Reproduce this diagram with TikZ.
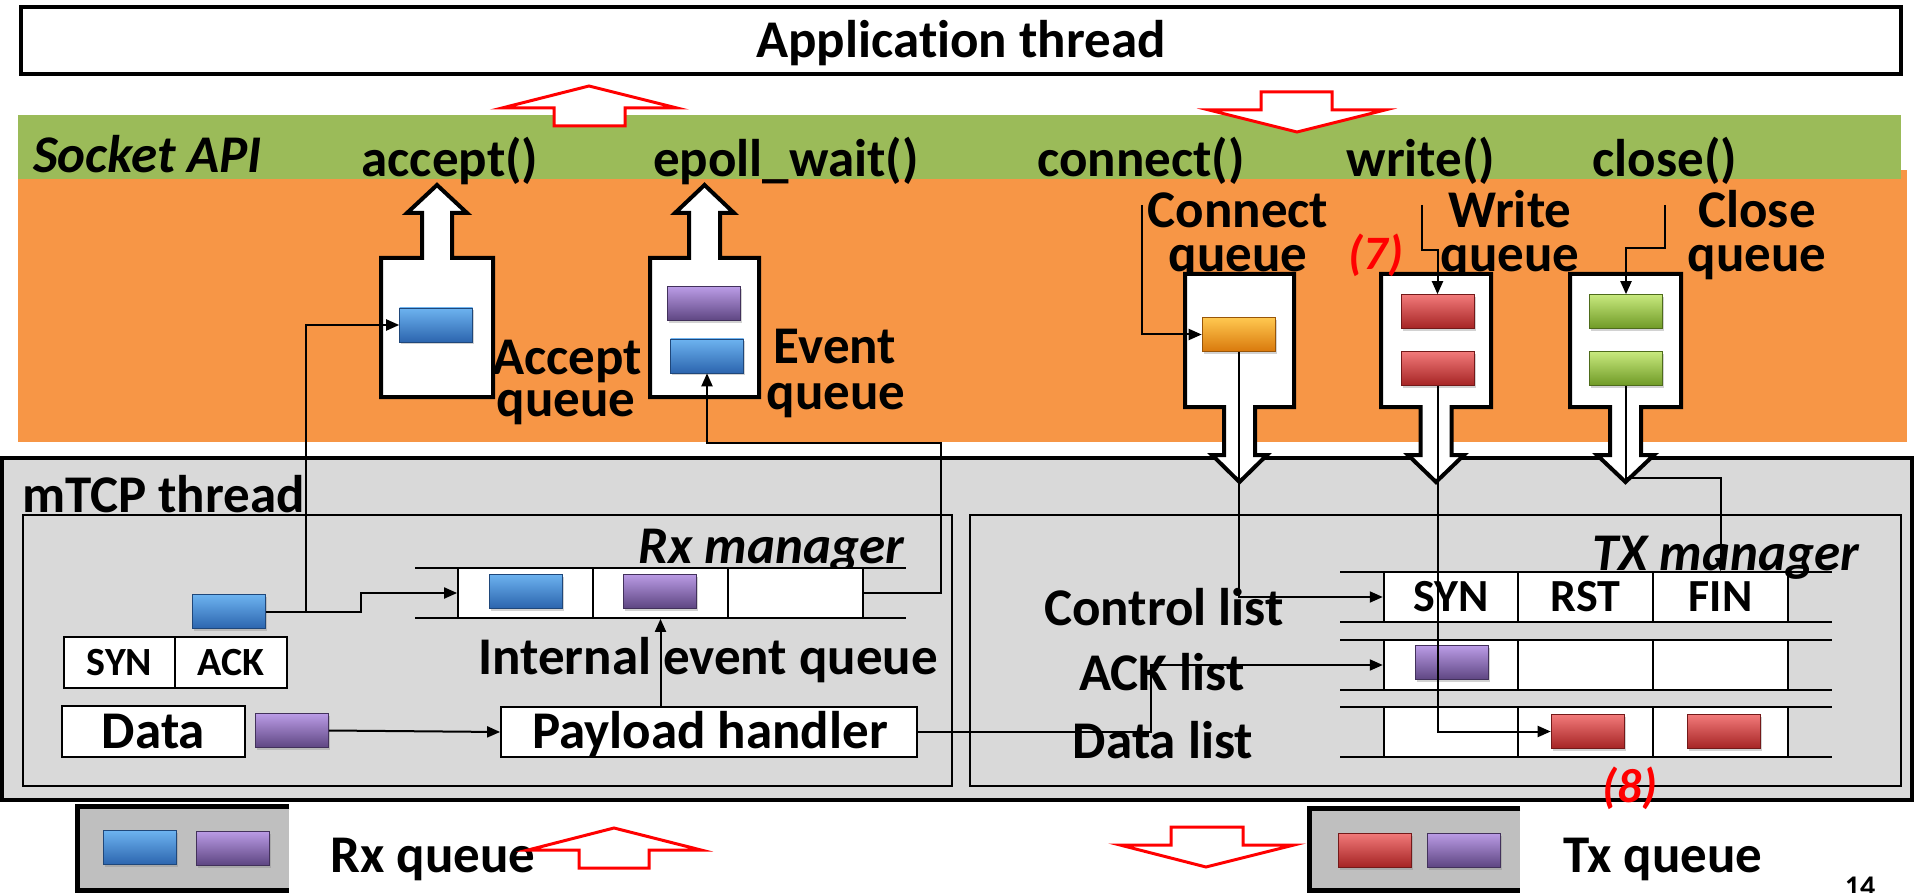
\documentclass[tikz,border=0pt]{standalone}
\usepackage{fontspec}
\setmainfont{Carlito}[Ligatures={NoCommon,NoRequired,NoContextual}]
\usetikzlibrary{arrows.meta,shadows}
\definecolor{apigreen}{HTML}{9BBB59}
\definecolor{apiorange}{HTML}{F79646}
\definecolor{mgray}{HTML}{D9D9D9}
\definecolor{qgray}{HTML}{BFBFBF}
\definecolor{bTop}{HTML}{6DB3F0}\definecolor{bMid}{HTML}{4A8AD4}\definecolor{bBot}{HTML}{2C65AE}
\definecolor{pTop}{HTML}{BB9CE6}\definecolor{pMid}{HTML}{8064A2}\definecolor{pBot}{HTML}{5E4682}
\definecolor{rTop}{HTML}{F27A7A}\definecolor{rMid}{HTML}{D43A3A}\definecolor{rBot}{HTML}{A52424}
\definecolor{gTop}{HTML}{C8E97E}\definecolor{gMid}{HTML}{9CC63E}\definecolor{gBot}{HTML}{6F9A26}
\definecolor{oTop}{HTML}{FFC850}\definecolor{oMid}{HTML}{F7A21E}\definecolor{oBot}{HTML}{D9790C}
\begin{document}
\begin{tikzpicture}[x=1pt,y=-1pt,
  txt/.style={font=\fontsize{53}{60}\selectfont\bfseries, inner sep=0pt, anchor=base},
  itxt/.style={font=\fontsize{53}{60}\selectfont\bfseries\itshape, inner sep=0pt, anchor=base},
  redtxt/.style={font=\fontsize{48}{52}\selectfont\bfseries\itshape, text=red, inner sep=0pt, anchor=base},
  pkt/.style={rectangle, minimum width=73pt, minimum height=34pt, inner sep=0pt, line width=0.6pt,
     drop shadow={shadow xshift=1.5pt, shadow yshift=-2.5pt, opacity=0.35}},
  bluep/.style={pkt, draw=bBot!70!black, top color=bTop, middle color=bMid, bottom color=bBot},
  purpp/.style={pkt, draw=pBot!70!black, top color=pTop, middle color=pMid, bottom color=pBot},
  redp/.style={pkt, draw=rBot!70!black, top color=rTop, middle color=rMid, bottom color=rBot},
  greenp/.style={pkt, draw=gBot!70!black, top color=gTop, middle color=gMid, bottom color=gBot},
  orangep/.style={pkt, draw=oBot!70!black, top color=oTop, middle color=oMid, bottom color=oBot},
  qcell/.style={draw, line width=1.8pt, fill=white, minimum width=135pt, minimum height=50pt, inner sep=0pt},
  tcell/.style={qcell, minimum width=134.7pt, font=\fontsize{46}{50}\selectfont\bfseries},
  scell/.style={draw, line width=1.8pt, fill=white, minimum height=51pt, inner sep=0pt, font=\fontsize{40}{44}\selectfont\bfseries},
  wbox/.style={draw, line width=1.8pt, fill=white, inner sep=0pt},
  qbox/.style={draw=black, line width=4pt, fill=white, line join=miter},
  rarrow/.style={draw=red, line width=3pt, fill=white, line join=miter},
  ln/.style={line width=2pt},
  arr/.style={line width=2pt, -{Triangle[length=13pt,width=11pt]}},
  rowline/.style={line width=2.5pt}
]
\useasboundingbox (0,0) rectangle (1915,893);
\fill[white] (0,0) rectangle (1915,893);

% Application thread
\node[draw, line width=4pt, minimum width=1880pt, minimum height=67pt, inner sep=0pt] (app) at (961,40.5) {};
\node[txt] (apptxt) at (961,58) {Application thread};

% socket API layer
\fill[apiorange] (18,170) rectangle (1907,442);
\fill[apigreen] (18,115) rectangle (1901,179);

% red arrows between app and API
\draw[rarrow] (554,126) -- (554,108) -- (502,108) -- (589,86) -- (677,108) -- (625,108) -- (625,126) -- cycle;
\draw[rarrow] (1261,92) -- (1332,92) -- (1332,110) -- (1385,110) -- (1297,132) -- (1209,110) -- (1261,110) -- cycle;

\node[itxt, anchor=base west] (sapi) at (33,173) {Socket API};
\node[txt] (facc) at (450,177) {accept()};
\node[txt] (fepw) at (786,177) {epoll\_wait()};
\node[txt] (fcon) at (1141,177) {connect()};
\node[txt] (fwri) at (1421,177) {write()};
\node[txt] (fclo) at (1665,177) {close()};

% queue labels
\node[txt] (lacc1) at (567,374) {Accept};
\node[txt] (lacc2) at (566,416) {queue};
\node[txt] (levt1) at (835,363) {Event};
\node[txt] (levt2) at (836,409) {queue};
\node[txt] (lcon1) at (1238,228) {Connect};
\node[txt] (lcon2) at (1238,272) {queue};
\node[txt] (lwri1) at (1510,228) {Write};
\node[txt] (lwri2) at (1510,272) {queue};
\node[txt] (lclo1) at (1757,228) {Close};
\node[txt] (lclo2) at (1757,272) {queue};

% mTCP thread
\draw[line width=4pt, fill=mgray] (2,458) rectangle (1912,800);
\node[txt, anchor=base west] (mtcp) at (22,512) {mTCP thread};
\draw[line width=2pt] (23,515) rectangle (952,786);
\draw[line width=2pt] (970,515) rectangle (1901,786);

% queue block shapes
\draw[qbox] (381,397) -- (381,258) -- (422,258) -- (422,213) -- (407,213) -- (437,185) -- (467,213) -- (452,213) -- (452,258) -- (493,258) -- (493,397) -- cycle;
\draw[qbox] (650,397) -- (650,258) -- (689,258) -- (689,213) -- (675,213) -- (704.5,185) -- (734,213) -- (720,213) -- (720,258) -- (759,258) -- (759,397) -- cycle;
\draw[qbox] (1185,274) -- (1294,274) -- (1294,407) -- (1255,407) -- (1255,455) -- (1267,455) -- (1239.5,482) -- (1212,455) -- (1224,455) -- (1224,407) -- (1185,407) -- cycle;
\draw[qbox] (1381,274) -- (1491,274) -- (1491,407) -- (1451.5,407) -- (1451.5,455) -- (1464,455) -- (1436,482) -- (1408,455) -- (1420.5,455) -- (1420.5,407) -- (1381,407) -- cycle;
\draw[qbox] (1570,274) -- (1681,274) -- (1681,407) -- (1641,407) -- (1641,455) -- (1654,455) -- (1625.5,482) -- (1597,455) -- (1610,455) -- (1610,407) -- (1570,407) -- cycle;

% packets in socket queues
\node[bluep] (apk) at (436,325) {};
\node[purpp] (evp) at (704,303.5) {};
\node[bluep] (evb) at (707,356) {};
\node[orangep] (opk) at (1238.5,334.5) {};
\node[redp] (wr1) at (1437.5,311.5) {};
\node[redp] (wr2) at (1437.5,368.5) {};
\node[greenp] (gr1) at (1626,311.5) {};
\node[greenp] (gr2) at (1626,368.5) {};

% Rx manager
\begin{scope}
\clip (600,520) rectangle (950,568);
\node[itxt, anchor=base east] (rxm) at (904,563) {Rx manager};
\end{scope}
\draw[rowline] (415,568) -- (906,568);
\draw[rowline] (415,618) -- (906,618);
\node[qcell] (c1) at (525.5,593) {};
\node[qcell] (c2) at (660.5,593) {};
\node[qcell] (c3) at (795.5,593) {};
\node[bluep] (qb) at (526,591) {};
\node[purpp] (qp) at (660,591) {};
\node[txt] (ieq) at (708,674) {Internal event queue};

\node[bluep] (bpk) at (229,611.5) {};
\node[scell, minimum width=111pt] (syn) at (119.5,662.5) {SYN};
\node[scell, minimum width=112pt] (ack) at (231,662.5) {ACK};
\node[wbox, minimum width=183pt, minimum height=51pt] (data) at (153.5,731.5) {};
\node[txt] (datatxt) at (153.5,748) {Data};
\node[purpp] (dpk) at (292,730.5) {};
\node[wbox, minimum width=416pt, minimum height=50pt] (ph) at (709,732) {};
\node[txt] (phtxt) at (710,748) {Payload handler};

% TX manager
\foreach \yy in {572,622,640,690,707,757} {\draw[rowline] (1340,\yy) -- (1832,\yy);}
\node[tcell] (ctl1) at (1451,597) {SYN};
\node[tcell] (ctl2) at (1585.5,597) {RST};
\node[tcell] (fin) at (1720.5,597) {FIN};
\node[tcell] (ack1) at (1451,665) {};
\node[tcell] (ack2) at (1585.5,665) {};
\node[tcell] (ack3) at (1720.5,665) {};
\node[tcell] (dat1) at (1451,732) {};
\node[tcell] (dat2) at (1585.5,732) {};
\node[tcell] (dat3) at (1720.5,732) {};
\node[purpp] (ackp) at (1451.5,662.5) {};
\node[redp] (dr1) at (1587.5,731.5) {};
\node[redp] (dr2) at (1724,731.5) {};
\node[itxt, anchor=base east] (txm) at (1859,570) {TX manager};
\node[txt] (lctl) at (1164,625) {Control list};
\node[txt] (lack) at (1162,690) {ACK list};
\node[txt] (ldat) at (1163,758) {Data list};

% connectors
\coordinate (j1) at (306,611.5);
\draw[ln] (bpk.east) -- (j1);
\draw[arr] (j1) |- (apk.west);
\draw[arr] (j1) -- (361,611.5) |- (c1.west);
\draw[arr] (c3.east) -- (941,593) -- (941,443) -| (evb.south);
\draw[arr] (ph.north -| c2.south) -- (c2.south);
\draw[arr] (dpk.east) -- (ph.west);
\draw[arr] (ph.east) -- (1151,732) |- (ack1.west);
\coordinate (cst) at (1142,205);
\draw[arr] (cst) |- (opk.west);
\draw[arr] (opk.south) |- (ctl1.west);
\coordinate (wst) at (1422,205);
\draw[arr] (wst) -- (1422,250) -| (wr1.north);
\draw[arr] (wr2.south) |- (dr1.west);
\coordinate (clst) at (1665,205);
\draw[arr] (clst) -- (1665,248) -| (gr1.north);
\draw[arr] (gr2.south) |- (1720.5,478) -- (fin.north);

% bottom NIC queues
\fill[qgray] (77,806) rectangle (289,890);
\draw[line width=5pt, line join=miter] (289,806) -- (77,806) -- (77,890) -- (289,890);
\node[bluep] (rxb) at (139.5,847.5) {};
\node[purpp] (rxp) at (232.5,848) {};
\node[txt] (rxq) at (433,872) {Rx queue};
\draw[rarrow] (579,868) -- (579,850) -- (528,850) -- (614,828) -- (701,850) -- (649,850) -- (649,868) -- cycle;

\fill[qgray] (1309,808) rectangle (1520,890);
\draw[line width=5pt, line join=miter] (1520,808) -- (1309,808) -- (1309,890) -- (1520,890);
\node[redp] (txr) at (1375,850) {};
\node[purpp] (txp) at (1464,850) {};
\node[txt] (txq) at (1663,872) {Tx queue};
\draw[rarrow] (1171,827) -- (1243,827) -- (1243,845) -- (1294,845) -- (1206,867) -- (1120,845) -- (1171,845) -- cycle;

% step labels
\node[redtxt] (s7) at (1376,270) {(7)};
\node[redtxt] (s8) at (1630,802) {(8)};
\node[font=\fontsize{30}{34}\selectfont\bfseries, inner sep=0pt, anchor=base] (pg) at (1860,896) {14};
\end{tikzpicture}
\end{document}
